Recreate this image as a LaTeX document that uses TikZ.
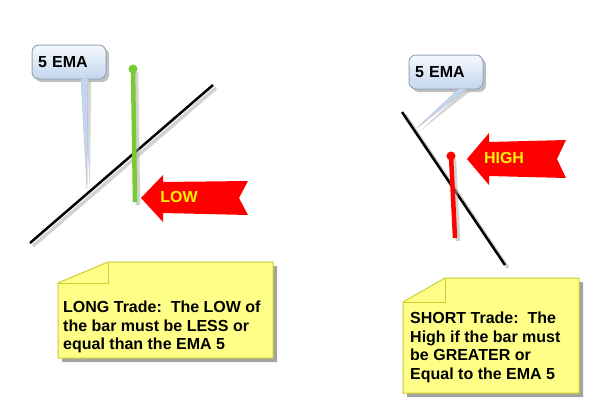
\documentclass[tikz,border=0pt]{standalone}
\usepackage{fontspec}
\setmainfont{Liberation Sans}
\usetikzlibrary{shadows,calc}
\definecolor{notefill}{RGB}{255,255,136}
\definecolor{noteline}{RGB}{204,204,51}
\definecolor{bargreen}{RGB}{119,204,51}
\definecolor{tagtop}{RGB}{246,249,253}
\definecolor{tagbottom}{RGB}{196,214,238}
\definecolor{tagline}{RGB}{150,165,185}
\tikzset{
  lineshadow/.style={preaction={draw=black!35, opacity=.5, line width=#1,
      transform canvas={xshift=3pt,yshift=-3pt}}},
  emaline/.style={line width=2.5pt, lineshadow=3.5pt},
  bar/.style={line width=4.5pt, lineshadow=4.5pt},
  note/.style={fill=notefill, draw=noteline, line width=1pt,
      drop shadow={shadow xshift=4pt, shadow yshift=-4pt, fill=black!60, opacity=.6}},
  notetext/.style={anchor=north west, align=left, inner sep=0pt,
      font=\fontsize{16}{18.5}\selectfont\bfseries},
  ematag/.style={draw=tagline, line width=1pt, rounded corners=7pt,
      top color=tagtop, bottom color=tagbottom, minimum height=34pt,
      text width=62pt, inner xsep=6pt, align=left,
      font=\fontsize{16}{18}\selectfont\bfseries,
      drop shadow={shadow xshift=3pt, shadow yshift=-3pt, fill=black!50, opacity=.5}},
  pointer/.style={fill=tagbottom, draw=tagline!70, line width=.4pt,
      drop shadow={shadow xshift=3pt, shadow yshift=-3pt, fill=black!40, opacity=.4}},
  flag/.style={fill=red},
  flagtext/.style={text=yellow, font=\fontsize{16}{18}\selectfont\bfseries}
}
\begin{document}
\begin{tikzpicture}[x=1pt,y=-1pt]
  \useasboundingbox (0,0) rectangle (600,400);

  % long trade
  \coordinate (emaLa) at (30,243);
  \coordinate (emaLb) at (213,85);
  \coordinate (lowTop) at (133,69);
  \coordinate (lowEnd) at (135,202);
  \coordinate (tagLtip) at (87,190);
  \node[ematag] (tagL) at (69,62) {5 EMA};
  \fill[pointer] ($(tagL.south)+(12,-1)$) -- ($(tagL.south)+(19,-1)$) -- (tagLtip) -- cycle;
  \draw[emaline] (emaLa) -- (emaLb);
  \draw[bar, bargreen] (lowTop) -- (lowEnd);
  \fill[bargreen] (lowTop) circle (4.5pt);
  \fill[flag] (141,198) -- (163,175) -- (163,182) -- (248,181) -- (239,198)
    -- (248,215) -- (163,213) -- (163,222) -- cycle;
  \node[flagtext] (low) at (179,197) {LOW};
  \filldraw[note] (108,262) -- (273,262) -- (273,358) -- (58,358) -- (58,283) -- cycle;
  \draw[noteline, line width=1pt] (108,262) -- (108,283) -- (58,283);
  \node[notetext] (longNote) at (63,301) {LONG Trade:\ \ The LOW of\\the bar must be LESS or\\equal than the EMA 5};

  % short trade
  \coordinate (emaSa) at (402,112);
  \coordinate (emaSb) at (505,265);
  \coordinate (highTop) at (451,156);
  \coordinate (highEnd) at (455,238);
  \coordinate (tagStip) at (417,128);
  \node[ematag] (tagS) at (446,72) {5 EMA};
  \fill[pointer] ($(tagS.south)+(13,-1)$) -- ($(tagS.south)+(21,-1)$) -- (tagStip) -- cycle;
  \draw[emaline] (emaSa) -- (emaSb);
  \draw[bar, red] (highTop) -- (highEnd);
  \fill[red] (highTop) circle (4.5pt);
  \fill[flag] (467,159) -- (489,133) -- (489,142) -- (566,140) -- (557,159)
    -- (566,178) -- (489,176) -- (489,185) -- cycle;
  \node[flagtext] (high) at (504,158) {HIGH};
  \filldraw[note] (445,278) -- (579,278) -- (579,393) -- (403,393) -- (403,302) -- cycle;
  \draw[noteline, line width=1pt] (445,278) -- (445,302) -- (403,302);
  \node[notetext] (shortNote) at (410,312) {SHORT Trade:\ \ The\\High if the bar must\\be GREATER or\\Equal to the EMA 5};
\end{tikzpicture}
\end{document}
